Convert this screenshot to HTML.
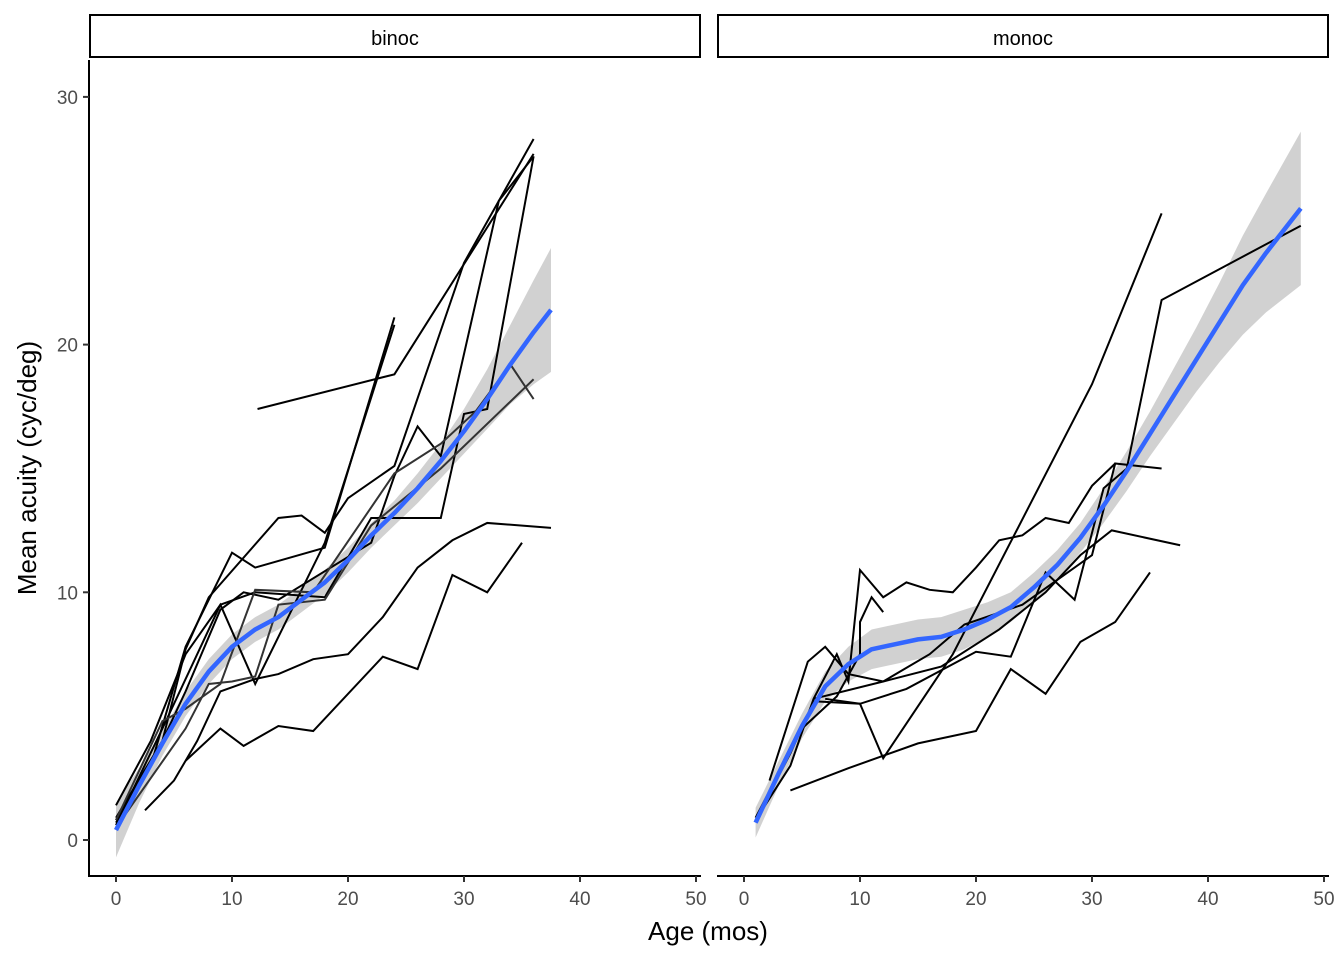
<!DOCTYPE html>
<html><head><meta charset="utf-8"><style>
body{margin:0;background:#fff;font-family:"Liberation Sans",sans-serif}
svg text{font-family:"Liberation Sans",sans-serif}
</style></head><body>
<svg id="c" width="1344" height="960" viewBox="0 0 1344 960">
<rect x="90" y="15" width="610" height="42" fill="#fff" stroke="#000" stroke-width="2"/>
<text x="395" y="45" text-anchor="middle" font-size="20">binoc</text>
<rect x="718" y="15" width="610" height="42" fill="#fff" stroke="#000" stroke-width="2"/>
<text x="1023" y="45" text-anchor="middle" font-size="20">monoc</text>
<text x="708" y="940" text-anchor="middle" font-size="26">Age (mos)</text>
<text transform="translate(36,468) rotate(-90)" text-anchor="middle" font-size="26">Mean acuity (cyc/deg)</text>
<g id="g"></g>
</svg>
<script>
const xTicks=[0,10,20,30,40,50];
const yTicks=[0,10,20,30];
const binocSubjects=[
[[12.2,17.4],[24,18.8],[36,27.7]],
[[0,0.7],[3,3],[6,7.8],[10,11.6],[12,11],[18,11.8],[24,21.1]],
[[0,1.4],[3,4],[6,7.5],[9,9.5],[12,6.3],[18,12],[24,20.8]],
[[0,0.9],[4,4],[6,7.7],[8,9.8],[14,13],[16,13.1],[18,12.4],[20,13.8],[24,15.1],[30,23.3],[36,28.3]],
[[0,0.6],[4,4.5],[9,9.5],[12,10],[18,9.8],[22,13],[28,13],[30,17.2],[32,17.4],[36,27.6]],
[[6,3.2],[9,4.5],[11,3.8],[14,4.6],[17,4.4],[23,7.4],[26,6.9],[29,10.7],[32,10],[35,12]],
[[2.5,1.2],[5,2.4],[7,4],[9,6],[12,6.5],[14,6.7],[17,7.3],[20,7.5],[23,9],[26,11],[29,12.1],[32,12.8],[37.5,12.6]],
[[0,0.8],[4,4],[6,6],[9,9.3],[11,10],[14,9.7],[22,12],[24,14.7],[26,16.7],[28,15.5],[33,25.8],[36,27.6]]];
const binocGray=[
[[0,0.8],[4,4.8],[6,5.3],[9,6.3],[12,10.1],[17,10],[24,14.8],[28,16],[31,17.3],[34,19.2],[36,17.8]],
[[0,0.5],[3,2.5],[6,4.5],[8,6.3],[10,6.4],[12,6.6],[14,9.5],[18,9.7],[22,12.7],[28,15],[36,18.6]]];
const monocSubjects=[
[[2.2,2.4],[5.5,7.2],[7,7.8],[9,6.7],[12,6.4],[16,7.5],[19,8.7],[24,9.5],[30,11.5],[32,15.2],[36,15]],
[[4,2],[9,2.9],[15,3.9],[20,4.4],[23,6.9],[26,5.9],[29,8],[32,8.8],[35,10.8]],
[[1,0.8],[4,3],[6,5.7],[8,7.5],[9,6.4],[10,10.9],[12,9.8],[14,10.4],[16,10.1],[18,10],[20,11],[22,12.1],[24,12.3],[26,13],[28,12.8],[30,14.3],[32,15.2]],
[[1,0.8],[4,3.5],[6,5.6],[10,5.5],[12,3.3],[18,7.5],[30,18.4],[36,25.3]],
[[7,5.7],[10,5.5],[14,6.1],[20,7.6],[23,7.4],[26,10.8],[28.5,9.7],[31,14.2],[33,15],[36,21.8],[48,24.8]],
[[1,0.9],[5,4.5],[8,5.8],[10,7.5],[10,8.8],[11,9.8],[12,9.2]],
[[6,5.7],[12,6.4],[17,7],[22,8.5],[26,10],[29,11.5],[31.7,12.5],[37.6,11.9]]];
const binocSmoothX=[0,2,4,6,8,10,12,14,16,18,20,22,24,26,28,30,32,34,36,37.5];
const binocSmoothY=[0.4,2.2,3.9,5.5,6.8,7.8,8.5,9,9.7,10.4,11.3,12.3,13.2,14.2,15.3,16.5,17.8,19.2,20.5,21.4];
const binocSE=[1.1,0.7,0.5,0.5,0.5,0.5,0.5,0.5,0.5,0.5,0.5,0.5,0.5,0.6,0.7,0.9,1.2,1.6,2.1,2.5];
const monocSmoothX=[1,3,5,7,9,11,13,15,17,19,21,23,25,27,29,31,33,35,37,39,41,43,45,48];
const monocSmoothY=[0.7,2.7,4.6,6.2,7.1,7.7,7.9,8.1,8.2,8.5,8.9,9.4,10.2,11.1,12.2,13.5,14.9,16.4,17.9,19.4,20.9,22.4,23.7,25.5];
const monocSE=[0.6,0.5,0.5,0.6,0.7,0.8,0.8,0.8,0.8,0.8,0.7,0.6,0.6,0.6,0.6,0.7,0.8,0.9,1.1,1.3,1.6,2,2.4,3.1];

const NS='http://www.w3.org/2000/svg';
const g=document.getElementById('g');
const Y=v=>840-v*24.77;
function mk(t,a){const e=document.createElementNS(NS,t);for(const k in a)e.setAttribute(k,a[k]);g.appendChild(e);return e;}
function panel(x0,name,subs,grays,sx,sy,se,showY){
  const X=v=>x0+v*11.6;
  const left=x0-27;
  let d='M'+sx.map((v,i)=>X(v)+','+Y(sy[i]+se[i])).join('L');
  for(let i=sx.length-1;i>=0;i--)d+='L'+X(sx[i])+','+Y(sy[i]-se[i]);
  let b=mk('path',{d:d+'Z',fill:'#999','fill-opacity':0.45});
  
  
  subs.forEach((s,i)=>{let p=mk('polyline',{points:s.map(q=>X(q[0])+','+Y(q[1])).join(' '),fill:'none',stroke:'#000','stroke-width':2});
    
    });
  grays.forEach((s,i)=>{let p=mk('polyline',{points:s.map(q=>X(q[0])+','+Y(q[1])).join(' '),fill:'none',stroke:'#333','stroke-width':2});
    
    });
  let sm=mk('polyline',{points:sx.map((v,i)=>X(v)+','+Y(sy[i])).join(' '),fill:'none',stroke:'#3366FF','stroke-width':4.5,'stroke-linejoin':'round'});
  
  
  let ax=mk('line',{x1:left,y1:876,x2:x0+612-27,y2:876,stroke:'#000','stroke-width':2});
  
  
  xTicks.forEach(t=>{mk('line',{x1:X(t),y1:876,x2:X(t),y2:882,stroke:'#333','stroke-width':2});
    let tx=mk('text',{x:X(t),y:905,'text-anchor':'middle','font-size':19,fill:'#4d4d4d'});tx.textContent=t;
    
    });
  if(showY){
    let ay=mk('line',{x1:left,y1:60,x2:left,y2:877,stroke:'#000','stroke-width':2});
    
    
    yTicks.forEach(t=>{mk('line',{x1:left-6,y1:Y(t),x2:left,y2:Y(t),stroke:'#333','stroke-width':2});
      let tx=mk('text',{x:left-11,y:Y(t)+7,'text-anchor':'end','font-size':19,fill:'#4d4d4d'});tx.textContent=t;
      
      });
  }
}
panel(116,'binoc',binocSubjects,binocGray,binocSmoothX,binocSmoothY,binocSE,true);
panel(744,'monoc',monocSubjects,[],monocSmoothX,monocSmoothY,monocSE,false);
</script>
</body></html>
